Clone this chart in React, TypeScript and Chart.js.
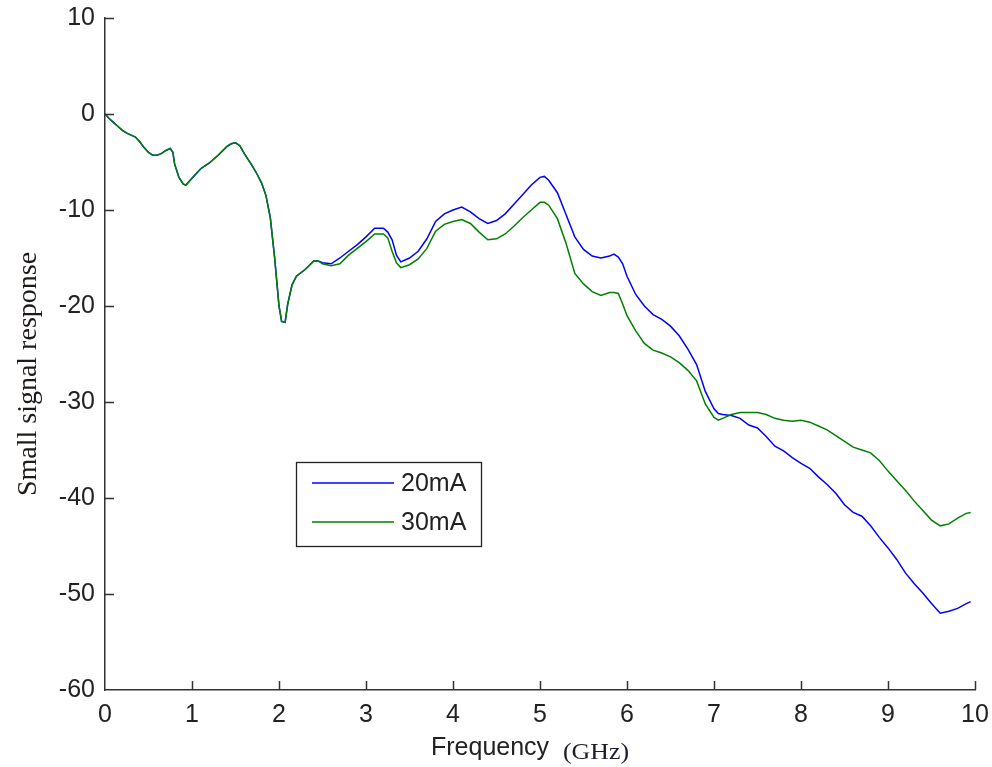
import React, { useEffect, useRef } from "react";
import { Chart, registerables } from "chart.js";

Chart.register(...registerables);

const seriesNames = ["20mA", "30mA"];
const seriesColors = ["#0000ff", "#008000"];

// Frequency (GHz)
const freq = [
  0.0, 0.05, 0.1, 0.15, 0.2, 0.25, 0.3, 0.35, 0.4, 0.45, 0.5, 0.55, 0.6, 0.65, 0.7, 0.75, 0.78, 0.8, 0.85, 0.9, 0.93,
  1.0, 1.05, 1.1, 1.2, 1.3, 1.4, 1.45, 1.5, 1.55, 1.6, 1.65, 1.7, 1.75, 1.8, 1.85, 1.9, 1.95, 2.0, 2.03, 2.07, 2.1,
  2.15, 2.2, 2.3, 2.4, 2.45, 2.5, 2.6, 2.7, 2.8, 2.9, 3.0, 3.1, 3.2, 3.25, 3.3, 3.35, 3.4, 3.5, 3.6, 3.7, 3.8, 3.9,
  4.0, 4.1, 4.2, 4.3, 4.4, 4.5, 4.6, 4.7, 4.8, 4.9, 5.0, 5.05, 5.1, 5.2, 5.3, 5.4, 5.5, 5.6, 5.7, 5.8, 5.85, 5.9,
  5.95, 6.0, 6.1, 6.2, 6.3, 6.4, 6.5, 6.6, 6.7, 6.8, 6.9, 7.0, 7.05, 7.1, 7.2, 7.3, 7.4, 7.5, 7.6, 7.7, 7.8, 7.9,
  8.0, 8.1, 8.2, 8.3, 8.4, 8.5, 8.6, 8.7, 8.8, 8.9, 9.0, 9.1, 9.2, 9.3, 9.4, 9.5, 9.6, 9.7, 9.8, 9.9, 9.95,
];

const resp20mA = [
  0, -0.5, -0.9, -1.3, -1.7, -2.0, -2.2, -2.4, -2.9, -3.5, -4.0, -4.3, -4.3, -4.1, -3.8, -3.6, -4.0, -5.2, -6.6, -7.3, -7.4,
  -6.7, -6.2, -5.7, -5.1, -4.3, -3.4, -3.1, -3.0, -3.3, -4.1, -4.8, -5.5, -6.3, -7.2, -8.5, -10.8, -15.0, -20.0, -21.6, -21.7, -19.8,
  -17.8, -16.9, -16.2, -15.3, -15.3, -15.5, -15.6, -15.0, -14.3, -13.6, -12.8, -11.9, -11.9, -12.3, -13.1, -14.7, -15.4, -15.0, -14.3, -13.0, -11.2, -10.4,
  -10.0, -9.7, -10.2, -10.9, -11.4, -11.1, -10.4, -9.4, -8.4, -7.4, -6.6, -6.5, -6.9, -8.2, -10.5, -12.8, -14.1, -14.8, -15.0, -14.8, -14.6, -14.9,
  -15.6, -16.9, -18.8, -20.0, -20.9, -21.4, -22.1, -23.1, -24.5, -26.1, -28.9, -30.7, -31.2, -31.3, -31.4, -31.7, -32.4, -32.7, -33.6, -34.6, -35.1, -35.8,
  -36.4, -36.9, -37.8, -38.6, -39.5, -40.7, -41.5, -41.9, -42.9, -44.1, -45.2, -46.4, -47.8, -48.9, -49.9, -51.0, -52.0, -51.8, -51.5, -51.0, -50.8,
];

const resp30mA = [
  0, -0.5, -0.9, -1.3, -1.7, -2.0, -2.2, -2.4, -2.9, -3.5, -4.0, -4.3, -4.3, -4.1, -3.8, -3.6, -4.0, -5.2, -6.6, -7.3, -7.4,
  -6.7, -6.2, -5.7, -5.1, -4.3, -3.4, -3.1, -3.0, -3.3, -4.1, -4.8, -5.5, -6.3, -7.2, -8.5, -10.8, -15.0, -20.0, -21.6, -21.7, -19.8,
  -17.8, -16.9, -16.2, -15.3, -15.3, -15.6, -15.8, -15.6, -14.7, -14.0, -13.3, -12.5, -12.5, -12.9, -14.3, -15.5, -16.0, -15.7, -15.1, -14.0, -12.2, -11.5,
  -11.2, -11.0, -11.4, -12.3, -13.1, -13.0, -12.5, -11.7, -10.8, -10.0, -9.2, -9.2, -9.5, -10.9, -13.5, -16.6, -17.7, -18.5, -18.9, -18.6, -18.6, -18.7,
  -19.8, -21.0, -22.6, -23.9, -24.6, -24.9, -25.3, -25.9, -26.7, -27.8, -30.2, -31.6, -31.9, -31.7, -31.3, -31.1, -31.1, -31.1, -31.3, -31.7, -31.9, -32.0,
  -31.9, -32.1, -32.5, -32.9, -33.5, -34.1, -34.7, -35.0, -35.3, -36.1, -37.2, -38.2, -39.2, -40.3, -41.3, -42.3, -42.9, -42.7, -42.1, -41.6, -41.5,
];

const xTicks = [0, 1, 2, 3, 4, 5, 6, 7, 8, 9, 10];
const yTicks = [-60, -50, -40, -30, -20, -10, 0, 10];
const xTitle = "Frequency";
const xUnit = "(GHz)";
const yTitle = "Small signal response";

const AXIS_COLOR = "#333333";
const TEXT_COLOR = "#222222";

const decorPlugin = {
  id: "decor",
  afterDraw(chart: any) {
    const ctx = chart.ctx;
    const xs = chart.scales.x;
    const ys = chart.scales.y;
    const area = chart.chartArea;
    ctx.save();
    // inward tick marks
    ctx.strokeStyle = AXIS_COLOR;
    ctx.lineWidth = 1.5;
    ctx.beginPath();
    xTicks.forEach((v) => {
      if (v === 0) return;
      const px = Math.round(xs.getPixelForValue(v)) + 0.5;
      ctx.moveTo(px, area.bottom);
      ctx.lineTo(px, area.bottom - 9);
    });
    yTicks.forEach((v) => {
      if (v === -60) return;
      const py = Math.round(ys.getPixelForValue(v)) + 0.5;
      ctx.moveTo(area.left, py);
      ctx.lineTo(area.left + 9, py);
    });
    ctx.stroke();

    // x title
    ctx.fillStyle = TEXT_COLOR;
    ctx.textBaseline = "alphabetic";
    ctx.textAlign = "left";
    ctx.font = "25px 'Liberation Sans', Arial, sans-serif";
    ctx.fillText(xTitle, 431, 755);
    ctx.save();
    ctx.font = "23px 'Liberation Serif', 'Times New Roman', serif";
    ctx.fillStyle = "#1c1c30";
    ctx.translate(563, 759);
    const w = ctx.measureText(xUnit).width;
    ctx.scale(66 / w, 1);
    ctx.fillText(xUnit, 0, 0);
    ctx.restore();

    // y title
    ctx.save();
    ctx.translate(36, 374);
    ctx.rotate(-Math.PI / 2);
    ctx.textAlign = "center";
    ctx.font = "28px 'Liberation Serif', 'Times New Roman', serif";
    ctx.fillStyle = "#1e1a18";
    ctx.fillText(yTitle, 0, 0);
    ctx.restore();

    // legend
    const bx = 296.5, by = 462.5, bw = 185, bh = 84;
    ctx.fillStyle = "#ffffff";
    ctx.fillRect(bx, by, bw, bh);
    ctx.strokeStyle = "#222222";
    ctx.lineWidth = 1.3;
    ctx.strokeRect(bx, by, bw, bh);
    const rowsY = [483, 522];
    ctx.font = "25px 'Liberation Sans', Arial, sans-serif";
    ctx.textAlign = "left";
    ctx.textBaseline = "middle";
    seriesNames.forEach((name, i) => {
      ctx.strokeStyle = seriesColors[i];
      ctx.lineWidth = 1.4;
      ctx.beginPath();
      ctx.moveTo(312, rowsY[i]);
      ctx.lineTo(394, rowsY[i]);
      ctx.stroke();
      ctx.fillStyle = TEXT_COLOR;
      ctx.fillText(name, 401, rowsY[i] + 1);
    });
    ctx.restore();
  },
};

export default function App() {
  const ref = useRef<HTMLCanvasElement | null>(null);
  useEffect(() => {
    if (!ref.current) return;
    const series = [resp20mA, resp30mA];
    const chart = new Chart(ref.current, {
      type: "line",
      data: {
        datasets: series.map((vals, i) => ({
          label: seriesNames[i],
          data: freq.map((f, k) => ({ x: f, y: vals[k] })),
          borderColor: seriesColors[i],
          backgroundColor: seriesColors[i],
          borderWidth: 1.5,
          pointRadius: 0,
          tension: 0,
          fill: false,
          order: i === 0 ? 1 : 0,
        })),
      },
      options: {
        animation: false,
        responsive: false,
        layout: { padding: { top: 18, right: 17, left: 0, bottom: 0 } },
        plugins: { legend: { display: false }, tooltip: { enabled: false } },
        scales: {
          x: {
            type: "linear",
            min: 0,
            max: 10,
            afterBuildTicks: (s: any) => {
              s.ticks = xTicks.map((v) => ({ value: v }));
            },
            afterFit: (s: any) => {
              s.height = 77;
              s.paddingLeft = 0;
              s.paddingRight = 0;
            },
            grid: { display: false, drawTicks: false },
            border: { display: true, color: AXIS_COLOR, width: 1.5 },
            ticks: {
              padding: 10,
              color: TEXT_COLOR,
              font: { family: "'Liberation Sans', Arial, sans-serif", size: 25 },
              maxRotation: 0,
            },
          },
          y: {
            type: "linear",
            min: -60,
            max: 10,
            afterBuildTicks: (s: any) => {
              s.ticks = yTicks.map((v) => ({ value: v }));
            },
            afterFit: (s: any) => {
              s.width = 105;
              s.paddingTop = 0;
              s.paddingBottom = 0;
            },
            grid: { display: false, drawTicks: false },
            border: { display: true, color: AXIS_COLOR, width: 1.5 },
            ticks: {
              padding: 10,
              color: TEXT_COLOR,
              font: { family: "'Liberation Sans', Arial, sans-serif", size: 25 },
            },
          },
        },
      },
      plugins: [decorPlugin],
    } as any);
    return () => chart.destroy();
  }, []);
  return (
    <div style={{ position: "absolute", left: 0, top: 0, width: 992, height: 767, background: "#fff" }}>
      <canvas ref={ref} width={992} height={767} style={{ width: 992, height: 767, display: "block" }} />
    </div>
  );
}
